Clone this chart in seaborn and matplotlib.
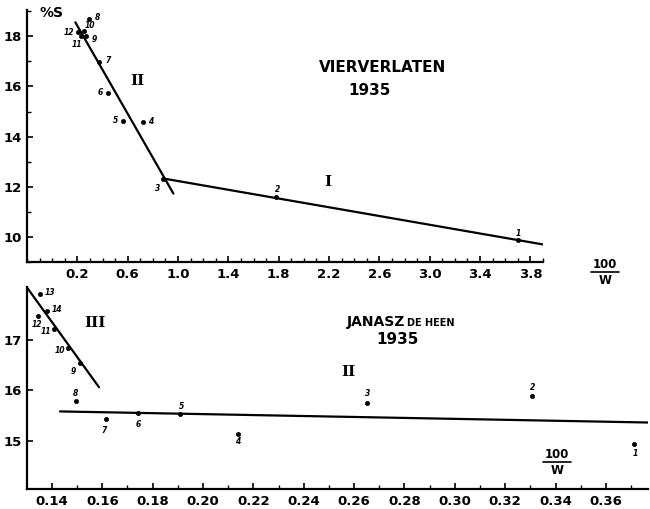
import matplotlib
matplotlib.use("Agg")
import matplotlib.pyplot as plt
import seaborn as sns
import pandas as pd
from matplotlib.lines import Line2D
from matplotlib.ticker import MultipleLocator

# --- Vierverlaten 1935 ---
v_num = [1, 2, 3, 4, 5, 6, 7, 8, 9, 10, 11, 12]
v_x = [3.70, 1.78, 0.88, 0.72, 0.56, 0.44, 0.375, 0.295, 0.272, 0.256, 0.232, 0.208]
v_s = [9.87, 11.60, 12.33, 14.59, 14.63, 15.74, 16.97, 18.71, 18.00, 18.20, 18.00, 18.16]

# fitted lines (end points in data units)
v_line1_x = [0.884, 3.90]
v_line1_s = [12.33, 9.70]
v_line2_x = [0.184, 0.963]
v_line2_s = [18.56, 11.73]

v_xticks = [0.2, 0.6, 1.0, 1.4, 1.8, 2.2, 2.6, 3.0, 3.4, 3.8]
v_xticklabels = ["0.2", "0.6", "1.0", "1.4", "1.8", "2.2", "2.6", "3.0", "3.4", "3.8"]
v_yticks = [10, 12, 14, 16, 18]

# --- Janasz de Heen 1935 ---
j_num = [1, 2, 3, 4, 5, 6, 7, 8, 9, 10, 11, 12, 13, 14]
j_x = [0.371, 0.3308, 0.2652, 0.2139, 0.1908, 0.1742, 0.1614, 0.1495,
       0.1511, 0.1464, 0.1408, 0.1344, 0.1352, 0.1380]
j_s = [14.94, 15.88, 15.74, 15.14, 15.52, 15.54, 15.42, 15.78,
       16.54, 16.84, 17.22, 17.48, 17.92, 17.58]

j_line2_x = [0.1432, 0.3767]
j_line2_s = [15.58, 15.36]
j_line3_x = [0.1301, 0.1587]
j_line3_s = [18.04, 16.06]

j_xticks = [0.14, 0.16, 0.18, 0.20, 0.22, 0.24, 0.26, 0.28, 0.30, 0.32, 0.34, 0.36]
j_xticklabels = ["0.14", "0.16", "0.18", "0.20", "0.22", "0.24",
                 "0.26", "0.28", "0.30", "0.32", "0.34", "0.36"]
j_yticks = [15, 16, 17]

# label offsets (points) for the sample numbers
v_off = {1: (0, 5), 2: (1, 5), 3: (-4, -7), 4: (6, 0), 5: (-5, 0), 6: (-5, 0),
         7: (6, 1), 8: (6, 1), 9: (6, -2), 10: (4, 4), 11: (-3, -6), 12: (-7, 0)}
j_off = {1: (1, -7), 2: (0, 6), 3: (0, 7), 4: (0, -6), 5: (1, 6), 6: (0, -8),
         7: (-1, -8), 8: (0, 6), 9: (-5, -6), 10: (-6, -2), 11: (-6, -2),
         12: (-1, -6), 13: (7, 1), 14: (7, 1)}

sns.set_style("ticks")
plt.rcParams["font.family"] = ["DejaVu Sans"]
plt.rcParams["font.weight"] = "bold"
for key in ("text.color", "axes.edgecolor", "xtick.color", "ytick.color",
            "axes.labelcolor"):
    plt.rcParams[key] = "black"

fig = plt.figure(figsize=(6.5, 5.09), dpi=100)
ax1 = fig.add_axes([27 / 650, 1 - 262 / 509, 516 / 650, 252 / 509])
ax2 = fig.add_axes([27 / 650, 1 - 489 / 509, 621 / 650, 202 / 509])

dfv = pd.DataFrame({"x": v_x, "s": v_s, "n": v_num})
dfj = pd.DataFrame({"x": j_x, "s": j_s, "n": j_num})

line_kw = dict(color="black", linewidth=1.6, legend=False)
sns.lineplot(x=v_line1_x, y=v_line1_s, ax=ax1, **line_kw)
sns.lineplot(x=v_line2_x, y=v_line2_s, ax=ax1, **line_kw)
sns.scatterplot(data=dfv, x="x", y="s", ax=ax1, color="black", s=10,
                edgecolor="black", linewidth=0.4, legend=False)

sns.lineplot(x=j_line2_x, y=j_line2_s, ax=ax2, **line_kw)
sns.lineplot(x=j_line3_x, y=j_line3_s, ax=ax2, **line_kw)
sns.scatterplot(data=dfj, x="x", y="s", ax=ax2, color="black", s=10,
                edgecolor="black", linewidth=0.4, legend=False)

for ax, df, off in ((ax1, dfv, v_off), (ax2, dfj, j_off)):
    for _, r in df.iterrows():
        dx, dy = off[int(r["n"])]
        ax.annotate(str(int(r["n"])), (r["x"], r["s"]), xytext=(dx, dy),
                    textcoords="offset points", ha="center", va="center",
                    fontsize=5.5, fontweight="bold", fontstyle="italic")

# axes styling
ax1.set_xlim(-0.2, 3.9)
ax1.set_ylim(9.0, 19.05)
ax1.set_xticks(v_xticks)
ax1.set_xticklabels(v_xticklabels)
ax1.xaxis.set_minor_locator(MultipleLocator(0.1))
ax1.set_yticks(v_yticks)
ax1.set_yticklabels([str(t) for t in v_yticks])
ax1.yaxis.set_minor_locator(MultipleLocator(1))

ax2.set_xlim(0.1301, 0.3767)
ax2.set_ylim(14.04, 18.05)
ax2.set_xticks(j_xticks)
ax2.set_xticklabels(j_xticklabels)
ax2.xaxis.set_minor_locator(MultipleLocator(0.01))
ax2.set_yticks(j_yticks)
ax2.set_yticklabels([str(t) for t in j_yticks])

for ax in (ax1, ax2):
    sns.despine(ax=ax)
    ax.set_xlabel("")
    ax.set_ylabel("")
    ax.spines["left"].set_linewidth(1.6)
    ax.spines["bottom"].set_linewidth(1.6)
    ax.tick_params(axis="both", which="major", direction="in", length=4,
                   width=1.2, labelsize=9.5, pad=4)
    ax.tick_params(axis="both", which="minor", direction="in", length=3, width=1.0)
    for lab in ax.get_xticklabels() + ax.get_yticklabels():
        lab.set_fontweight("bold")
    ax.set_facecolor("white")

# panel annotations
fig.text(40 / 650, 1 - 13 / 509, "%S", fontsize=10, fontweight="bold",
         ha="left", va="center")
ax1.text(0.68, 16.2, "II", fontsize=11, fontweight="bold", family="DejaVu Serif",
         ha="center", va="center")
ax1.text(2.19, 12.2, "I", fontsize=11, fontweight="bold", family="DejaVu Serif",
         ha="center", va="center")
fig.text(383 / 650, 1 - 68 / 509, "VIERVERLATEN", fontsize=11, fontweight="bold",
         ha="center", va="center")
fig.text(369 / 650, 1 - 90 / 509, "1935", fontsize=11, fontweight="bold",
         ha="center", va="center")

ax2.text(0.157, 17.34, "III", fontsize=11, fontweight="bold", family="DejaVu Serif",
         ha="center", va="center")
ax2.text(0.2577, 16.36, "II", fontsize=11, fontweight="bold", family="DejaVu Serif",
         ha="center", va="center")
fig.text(347 / 650, 1 - 322 / 509, "JANASZ", fontsize=10, fontweight="bold",
         ha="left", va="center")
fig.text(407 / 650, 1 - 323 / 509, "DE HEEN", fontsize=7, fontweight="bold",
         ha="left", va="center")
fig.text(398 / 650, 1 - 340 / 509, "1935", fontsize=11, fontweight="bold",
         ha="center", va="center")

# 100 / W fraction labels
for cx, cy in ((605, 272), (557, 462)):
    fig.text(cx / 650, 1 - (cy - 7) / 509, "100", fontsize=8.5, fontweight="bold",
             ha="center", va="center")
    fig.text(cx / 650, 1 - (cy + 8) / 509, "W", fontsize=8.5, fontweight="bold",
             ha="center", va="center")
    fig.add_artist(Line2D([(cx - 14) / 650, (cx + 14) / 650],
                          [1 - cy / 509, 1 - cy / 509],
                          transform=fig.transFigure, color="black", linewidth=1.2))

fig.savefig("out.png", dpi=100, facecolor="white")
